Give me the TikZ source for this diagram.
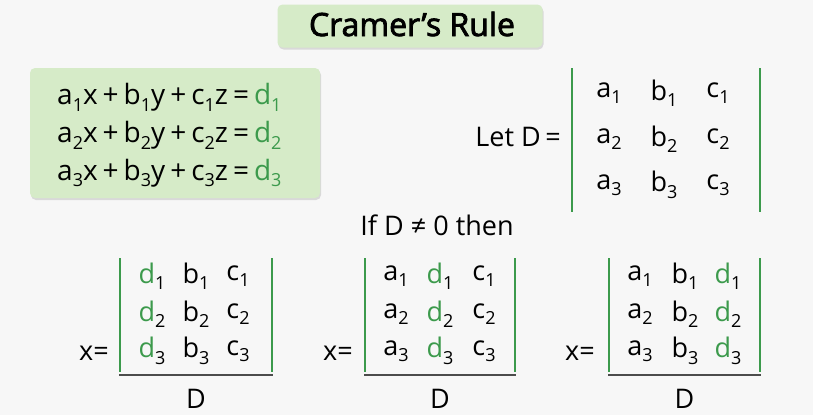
\documentclass[tikz,border=0pt]{standalone}
\usepackage{fontspec}
\setmainfont{Open Sans}
\newfontfamily\titlefont[FakeBold=2.5]{Open Sans}
\usetikzlibrary{shadows}
\definecolor{gr}{HTML}{3C9A4C}
\definecolor{boxg}{HTML}{D6EBC8}
\newcommand\su[1]{\raisebox{-0.45ex}{\fontsize{18}{18}\selectfont #1}}
\newcommand\G[1]{\textcolor{gr}{#1}}
\newcommand\gap{\hspace*{5pt}}
\begin{document}
\begin{tikzpicture}[x=1pt,y=-1pt,
  box/.style={fill=boxg,rounded corners=5pt,draw=none,drop shadow={shadow xshift=1pt,shadow yshift=-2pt,opacity=0.25}},
  t/.style={font=\fontsize{27}{30}\selectfont,inner sep=0pt},
  eq/.style={font=\fontsize{28}{32}\selectfont,inner sep=0pt,anchor=west},
  bar/.style={draw=gr,line width=1.6pt},
  fr/.style={draw=black!70,line width=1.2pt}]
\useasboundingbox[fill=white!97!black] (0,0) rectangle (813,415);
\node[box,minimum width=265,minimum height=43] (title) at (410,26) {};
\node[font=\titlefont\fontsize{32}{38}\selectfont,text=black] (tt) at (412,24) {Cramer’s Rule};
\node[box,minimum width=290,minimum height=130] (eqbox) at (175,133) {};
\node[eq] (e1) at (57,97) {a\su1x\gap+\gap b\su1y\gap+\gap c\su1z\gap=\gap\G{d\su1}};
\node[eq] (e2) at (57,135) {a\su2x\gap+\gap b\su2y\gap+\gap c\su2z\gap=\gap\G{d\su2}};
\node[eq] (e3) at (57,173) {a\su3x\gap+\gap b\su3y\gap+\gap c\su3z\gap=\gap\G{d\su3}};
\node[t,anchor=east] (let) at (561,137) {Let D\,=};
\draw[bar] (572,68) coordinate (l1) -- (572,212) coordinate (l2);
\draw[bar] (760,68) coordinate (r1) -- (760,212) coordinate (r2);
\foreach \r/\y in {1/93,2/139,3/185}{
  \node[t] (Da\r) at (609,\y) {a\su\r};
  \node[t] (Db\r) at (664,\y) {b\su\r};
  \node[t] (Dc\r) at (718,\y) {c\su\r};}
\node[t] (if) at (437,225) {If D ≠ 0 then};
\foreach \k/\xl/\xr/\xa/\xb/\xc/\xe/\A/\B/\C in {
  1/120/272/152/196/238/94/\G{d}/b/c,
  2/365/515/396/440/484/338/a/\G{d}/c,
  3/609/760/640/685/728/580/a/b/\G{d}}{
  \draw[bar] (\xl,258) -- (\xl,372);
  \draw[bar] (\xr,258) -- (\xr,372);
  \draw[fr] (\xl-1,375) -- (\xr+1,375);
  \node[t] (den\k) at ({(\xl+\xr)/2},399) {D};
  \node[t] (xe\k) at (\xe,353) {x=};
  \foreach \r/\y in {1/276,2/314,3/351}{
    \node[t] (m\k a\r) at (\xa,\y) {\A\su\r};
    \node[t] (m\k b\r) at (\xb,\y) {\B\su\r};
    \node[t] (m\k c\r) at (\xc,\y) {\C\su\r};}
}
\end{tikzpicture}
\end{document}
